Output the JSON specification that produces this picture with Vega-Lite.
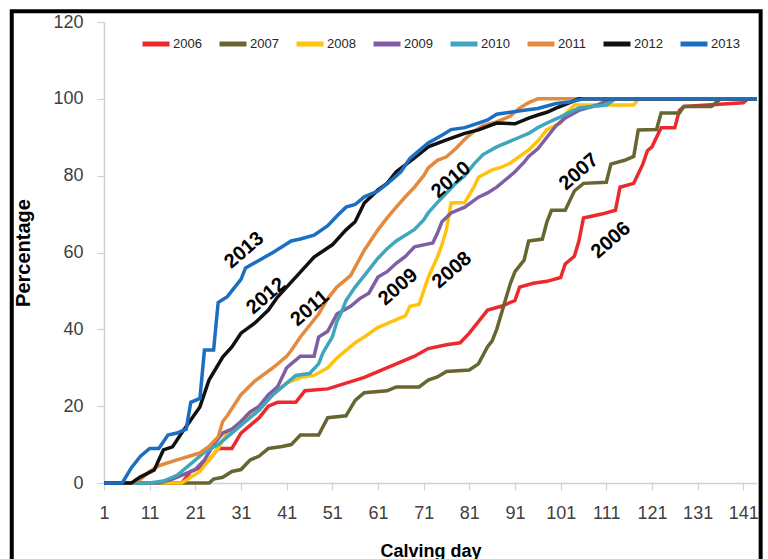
{
  "$schema": "https://vega.github.io/schema/vega-lite/v6.json",
  "width": 653,
  "height": 461,
  "autosize": {"type": "none"},
  "padding": {"left": 104, "top": 22, "right": 11, "bottom": 76},
  "background": "white",
  "config": {"view": {"stroke": null}},
  "datasets": {
    "curves": [
      {"year":"2006","day":1,"pct":0},{"year":"2006","day":18,"pct":0},{"year":"2006","day":20,"pct":3},{"year":"2006","day":22,"pct":4},{"year":"2006","day":24,"pct":6},{"year":"2006","day":26,"pct":9},{"year":"2006","day":29,"pct":9},{"year":"2006","day":31,"pct":13},{"year":"2006","day":33,"pct":15},{"year":"2006","day":35,"pct":17},{"year":"2006","day":37,"pct":20},{"year":"2006","day":39,"pct":21},{"year":"2006","day":43,"pct":21},{"year":"2006","day":45,"pct":24},{"year":"2006","day":50,"pct":24.5},{"year":"2006","day":54,"pct":26},{"year":"2006","day":58,"pct":27.5},{"year":"2006","day":61,"pct":29},{"year":"2006","day":65,"pct":31},{"year":"2006","day":69,"pct":33},{"year":"2006","day":72,"pct":35},{"year":"2006","day":76,"pct":36},{"year":"2006","day":79,"pct":36.5},{"year":"2006","day":81,"pct":39},{"year":"2006","day":83,"pct":42},{"year":"2006","day":85,"pct":45},{"year":"2006","day":88,"pct":46},{"year":"2006","day":91,"pct":47.5},{"year":"2006","day":92,"pct":51},{"year":"2006","day":95,"pct":52},{"year":"2006","day":98,"pct":52.5},{"year":"2006","day":101,"pct":53.5},{"year":"2006","day":102,"pct":57},{"year":"2006","day":104,"pct":59},{"year":"2006","day":105,"pct":63},{"year":"2006","day":106,"pct":69},{"year":"2006","day":110,"pct":70},{"year":"2006","day":113,"pct":71},{"year":"2006","day":114,"pct":77},{"year":"2006","day":117,"pct":78},{"year":"2006","day":119,"pct":83},{"year":"2006","day":120,"pct":86.5},{"year":"2006","day":121,"pct":87.5},{"year":"2006","day":123,"pct":92.5},{"year":"2006","day":126,"pct":92.5},{"year":"2006","day":127,"pct":97},{"year":"2006","day":128,"pct":98},{"year":"2006","day":141,"pct":99},{"year":"2006","day":142,"pct":100},{"year":"2006","day":144,"pct":100},
      {"year":"2007","day":1,"pct":0},{"year":"2007","day":24,"pct":0},{"year":"2007","day":25,"pct":1},{"year":"2007","day":27,"pct":1.5},{"year":"2007","day":29,"pct":3},{"year":"2007","day":31,"pct":3.5},{"year":"2007","day":33,"pct":6},{"year":"2007","day":35,"pct":7},{"year":"2007","day":37,"pct":9},{"year":"2007","day":40,"pct":9.5},{"year":"2007","day":42,"pct":10},{"year":"2007","day":44,"pct":12.5},{"year":"2007","day":48,"pct":12.5},{"year":"2007","day":50,"pct":17},{"year":"2007","day":54,"pct":17.5},{"year":"2007","day":56,"pct":21.5},{"year":"2007","day":58,"pct":23.5},{"year":"2007","day":63,"pct":24},{"year":"2007","day":65,"pct":25},{"year":"2007","day":70,"pct":25},{"year":"2007","day":72,"pct":26.8},{"year":"2007","day":74,"pct":27.6},{"year":"2007","day":76,"pct":29},{"year":"2007","day":81,"pct":29.4},{"year":"2007","day":83,"pct":31},{"year":"2007","day":85,"pct":35.5},{"year":"2007","day":86,"pct":37},{"year":"2007","day":87,"pct":40},{"year":"2007","day":88,"pct":44},{"year":"2007","day":89,"pct":48},{"year":"2007","day":90,"pct":52},{"year":"2007","day":91,"pct":55},{"year":"2007","day":93,"pct":58},{"year":"2007","day":94,"pct":63},{"year":"2007","day":97,"pct":63.5},{"year":"2007","day":98,"pct":68},{"year":"2007","day":99,"pct":71},{"year":"2007","day":102,"pct":71},{"year":"2007","day":104,"pct":76},{"year":"2007","day":106,"pct":78},{"year":"2007","day":111,"pct":78.3},{"year":"2007","day":112,"pct":83},{"year":"2007","day":115,"pct":84},{"year":"2007","day":117,"pct":85},{"year":"2007","day":118,"pct":91.9},{"year":"2007","day":122,"pct":92},{"year":"2007","day":123,"pct":96.3},{"year":"2007","day":127,"pct":96.3},{"year":"2007","day":128,"pct":98},{"year":"2007","day":134,"pct":98},{"year":"2007","day":136,"pct":100},{"year":"2007","day":144,"pct":100},
      {"year":"2008","day":1,"pct":0},{"year":"2008","day":18,"pct":0},{"year":"2008","day":20,"pct":1.5},{"year":"2008","day":22,"pct":3},{"year":"2008","day":24,"pct":6},{"year":"2008","day":26,"pct":9},{"year":"2008","day":28,"pct":13},{"year":"2008","day":30,"pct":15},{"year":"2008","day":33,"pct":18},{"year":"2008","day":36,"pct":21},{"year":"2008","day":38,"pct":23},{"year":"2008","day":41,"pct":26},{"year":"2008","day":44,"pct":27.5},{"year":"2008","day":47,"pct":28},{"year":"2008","day":50,"pct":30},{"year":"2008","day":52,"pct":32.5},{"year":"2008","day":54,"pct":34.5},{"year":"2008","day":56,"pct":36.5},{"year":"2008","day":58,"pct":38},{"year":"2008","day":61,"pct":40.5},{"year":"2008","day":63,"pct":41.5},{"year":"2008","day":65,"pct":42.5},{"year":"2008","day":67,"pct":43.5},{"year":"2008","day":68,"pct":46},{"year":"2008","day":70,"pct":46.5},{"year":"2008","day":71,"pct":50},{"year":"2008","day":72,"pct":53.5},{"year":"2008","day":74,"pct":58.8},{"year":"2008","day":75,"pct":62},{"year":"2008","day":76,"pct":66},{"year":"2008","day":77,"pct":72.9},{"year":"2008","day":80,"pct":73},{"year":"2008","day":82,"pct":77},{"year":"2008","day":83,"pct":79.6},{"year":"2008","day":86,"pct":81.5},{"year":"2008","day":88,"pct":82.2},{"year":"2008","day":90,"pct":83.3},{"year":"2008","day":92,"pct":85},{"year":"2008","day":94,"pct":86.7},{"year":"2008","day":96,"pct":89},{"year":"2008","day":98,"pct":92},{"year":"2008","day":101,"pct":93.7},{"year":"2008","day":102,"pct":96},{"year":"2008","day":104,"pct":98.4},{"year":"2008","day":117,"pct":98.4},{"year":"2008","day":118,"pct":100},{"year":"2008","day":144,"pct":100},
      {"year":"2009","day":1,"pct":0},{"year":"2009","day":13,"pct":0},{"year":"2009","day":16,"pct":1},{"year":"2009","day":19,"pct":2.5},{"year":"2009","day":21,"pct":3.5},{"year":"2009","day":23,"pct":6},{"year":"2009","day":25,"pct":10},{"year":"2009","day":27,"pct":13},{"year":"2009","day":29,"pct":14},{"year":"2009","day":31,"pct":16},{"year":"2009","day":33,"pct":18.5},{"year":"2009","day":35,"pct":20},{"year":"2009","day":37,"pct":23},{"year":"2009","day":39,"pct":25},{"year":"2009","day":41,"pct":30},{"year":"2009","day":42,"pct":31},{"year":"2009","day":44,"pct":33},{"year":"2009","day":47,"pct":33},{"year":"2009","day":48,"pct":38},{"year":"2009","day":50,"pct":39.5},{"year":"2009","day":52,"pct":44},{"year":"2009","day":55,"pct":46},{"year":"2009","day":57,"pct":48},{"year":"2009","day":59,"pct":49.4},{"year":"2009","day":61,"pct":53.6},{"year":"2009","day":63,"pct":55},{"year":"2009","day":65,"pct":57.2},{"year":"2009","day":67,"pct":59},{"year":"2009","day":69,"pct":61.5},{"year":"2009","day":73,"pct":62.5},{"year":"2009","day":74,"pct":65},{"year":"2009","day":75,"pct":68},{"year":"2009","day":77,"pct":70.3},{"year":"2009","day":80,"pct":71.8},{"year":"2009","day":83,"pct":74.4},{"year":"2009","day":85,"pct":75.5},{"year":"2009","day":87,"pct":77},{"year":"2009","day":89,"pct":79},{"year":"2009","day":91,"pct":81},{"year":"2009","day":93,"pct":83.5},{"year":"2009","day":94,"pct":85},{"year":"2009","day":96,"pct":87},{"year":"2009","day":98,"pct":90},{"year":"2009","day":100,"pct":93},{"year":"2009","day":102,"pct":95},{"year":"2009","day":105,"pct":97},{"year":"2009","day":109,"pct":98.4},{"year":"2009","day":112,"pct":100},{"year":"2009","day":144,"pct":100},
      {"year":"2010","day":1,"pct":0},{"year":"2010","day":11,"pct":0},{"year":"2010","day":14,"pct":0.5},{"year":"2010","day":17,"pct":2},{"year":"2010","day":20,"pct":5},{"year":"2010","day":23,"pct":8},{"year":"2010","day":26,"pct":10},{"year":"2010","day":29,"pct":13},{"year":"2010","day":32,"pct":16},{"year":"2010","day":35,"pct":19},{"year":"2010","day":38,"pct":23},{"year":"2010","day":41,"pct":26},{"year":"2010","day":43,"pct":28},{"year":"2010","day":46,"pct":28.5},{"year":"2010","day":48,"pct":31},{"year":"2010","day":49,"pct":34},{"year":"2010","day":51,"pct":38},{"year":"2010","day":52,"pct":42},{"year":"2010","day":53,"pct":44.5},{"year":"2010","day":54,"pct":47.5},{"year":"2010","day":56,"pct":51},{"year":"2010","day":58,"pct":54},{"year":"2010","day":61,"pct":58.5},{"year":"2010","day":63,"pct":61},{"year":"2010","day":65,"pct":63},{"year":"2010","day":67,"pct":64.5},{"year":"2010","day":69,"pct":66},{"year":"2010","day":71,"pct":68.5},{"year":"2010","day":72,"pct":70.3},{"year":"2010","day":74,"pct":73},{"year":"2010","day":76,"pct":75.5},{"year":"2010","day":78,"pct":78},{"year":"2010","day":80,"pct":80},{"year":"2010","day":82,"pct":83},{"year":"2010","day":84,"pct":85.5},{"year":"2010","day":87,"pct":87.5},{"year":"2010","day":90,"pct":89},{"year":"2010","day":92,"pct":90},{"year":"2010","day":94,"pct":91},{"year":"2010","day":96,"pct":92.5},{"year":"2010","day":98,"pct":93.7},{"year":"2010","day":100,"pct":94.8},{"year":"2010","day":101,"pct":95.3},{"year":"2010","day":103,"pct":96.5},{"year":"2010","day":105,"pct":97.6},{"year":"2010","day":111,"pct":98.4},{"year":"2010","day":113,"pct":100},{"year":"2010","day":144,"pct":100},
      {"year":"2011","day":1,"pct":0},{"year":"2011","day":7,"pct":0},{"year":"2011","day":9,"pct":1},{"year":"2011","day":11,"pct":3},{"year":"2011","day":13,"pct":4.5},{"year":"2011","day":17,"pct":6},{"year":"2011","day":22,"pct":7.8},{"year":"2011","day":24,"pct":9.5},{"year":"2011","day":26,"pct":12},{"year":"2011","day":27,"pct":16},{"year":"2011","day":28,"pct":17.5},{"year":"2011","day":31,"pct":23},{"year":"2011","day":34,"pct":26.5},{"year":"2011","day":38,"pct":30},{"year":"2011","day":41,"pct":33},{"year":"2011","day":42,"pct":34.5},{"year":"2011","day":44,"pct":38},{"year":"2011","day":46,"pct":41},{"year":"2011","day":48,"pct":44},{"year":"2011","day":50,"pct":48},{"year":"2011","day":52,"pct":51},{"year":"2011","day":55,"pct":54},{"year":"2011","day":58,"pct":60.6},{"year":"2011","day":61,"pct":65.9},{"year":"2011","day":63,"pct":69},{"year":"2011","day":65,"pct":71.8},{"year":"2011","day":67,"pct":74.5},{"year":"2011","day":69,"pct":77},{"year":"2011","day":71,"pct":80},{"year":"2011","day":72,"pct":82},{"year":"2011","day":74,"pct":84},{"year":"2011","day":76,"pct":84.9},{"year":"2011","day":78,"pct":87},{"year":"2011","day":80,"pct":89.5},{"year":"2011","day":82,"pct":91.5},{"year":"2011","day":84,"pct":93},{"year":"2011","day":87,"pct":94},{"year":"2011","day":90,"pct":95.5},{"year":"2011","day":92,"pct":97.6},{"year":"2011","day":94,"pct":99},{"year":"2011","day":96,"pct":100},{"year":"2011","day":144,"pct":100},
      {"year":"2012","day":1,"pct":0},{"year":"2012","day":7,"pct":0},{"year":"2012","day":9,"pct":1.6},{"year":"2012","day":12,"pct":3.4},{"year":"2012","day":14,"pct":8.6},{"year":"2012","day":16,"pct":9.4},{"year":"2012","day":18,"pct":13},{"year":"2012","day":22,"pct":19.8},{"year":"2012","day":24,"pct":26.8},{"year":"2012","day":27,"pct":32.8},{"year":"2012","day":29,"pct":35.4},{"year":"2012","day":31,"pct":39},{"year":"2012","day":34,"pct":41.6},{"year":"2012","day":37,"pct":45},{"year":"2012","day":39,"pct":48.4},{"year":"2012","day":43,"pct":53.6},{"year":"2012","day":47,"pct":58.8},{"year":"2012","day":51,"pct":62},{"year":"2012","day":54,"pct":65.9},{"year":"2012","day":56,"pct":68},{"year":"2012","day":58,"pct":72.9},{"year":"2012","day":61,"pct":76.3},{"year":"2012","day":63,"pct":78},{"year":"2012","day":65,"pct":81},{"year":"2012","day":69,"pct":84.6},{"year":"2012","day":72,"pct":87.5},{"year":"2012","day":76,"pct":89.3},{"year":"2012","day":80,"pct":91},{"year":"2012","day":83,"pct":91.9},{"year":"2012","day":87,"pct":93.7},{"year":"2012","day":91,"pct":93.5},{"year":"2012","day":94,"pct":95},{"year":"2012","day":96,"pct":95.8},{"year":"2012","day":98,"pct":96.5},{"year":"2012","day":100,"pct":97.6},{"year":"2012","day":103,"pct":99},{"year":"2012","day":105,"pct":100},{"year":"2012","day":144,"pct":100},
      {"year":"2013","day":1,"pct":0},{"year":"2013","day":5,"pct":0},{"year":"2013","day":7,"pct":4},{"year":"2013","day":9,"pct":7},{"year":"2013","day":11,"pct":9},{"year":"2013","day":13,"pct":9},{"year":"2013","day":15,"pct":12.5},{"year":"2013","day":17,"pct":13},{"year":"2013","day":19,"pct":14},{"year":"2013","day":20,"pct":21},{"year":"2013","day":22,"pct":22},{"year":"2013","day":23,"pct":34.6},{"year":"2013","day":25,"pct":34.6},{"year":"2013","day":26,"pct":47},{"year":"2013","day":28,"pct":48.5},{"year":"2013","day":29,"pct":50},{"year":"2013","day":31,"pct":53},{"year":"2013","day":32,"pct":56},{"year":"2013","day":35,"pct":58},{"year":"2013","day":38,"pct":60},{"year":"2013","day":42,"pct":63},{"year":"2013","day":44,"pct":63.5},{"year":"2013","day":47,"pct":64.5},{"year":"2013","day":50,"pct":67},{"year":"2013","day":52,"pct":69.5},{"year":"2013","day":54,"pct":71.8},{"year":"2013","day":56,"pct":72.5},{"year":"2013","day":58,"pct":74.5},{"year":"2013","day":61,"pct":76},{"year":"2013","day":64,"pct":78.9},{"year":"2013","day":66,"pct":81},{"year":"2013","day":68,"pct":84.5},{"year":"2013","day":70,"pct":86.5},{"year":"2013","day":72,"pct":88.5},{"year":"2013","day":75,"pct":90.5},{"year":"2013","day":77,"pct":92},{"year":"2013","day":80,"pct":92.5},{"year":"2013","day":83,"pct":93.7},{"year":"2013","day":85,"pct":94.5},{"year":"2013","day":87,"pct":96},{"year":"2013","day":90,"pct":96.5},{"year":"2013","day":93,"pct":97},{"year":"2013","day":96,"pct":97.5},{"year":"2013","day":100,"pct":98.8},{"year":"2013","day":103,"pct":99.2},{"year":"2013","day":106,"pct":100},{"year":"2013","day":144,"pct":100}
    ],
    "labels": [
      {"label":"2013","day":31.7,"pct":60.6},
      {"label":"2012","day":36.5,"pct":48.7},
      {"label":"2011","day":46.1,"pct":45.5},
      {"label":"2009","day":65.4,"pct":51},
      {"label":"2008","day":77.2,"pct":55.4},
      {"label":"2010","day":77,"pct":78.9},
      {"label":"2007","day":105,"pct":81},
      {"label":"2006","day":112,"pct":63.2}
    ]
  },
  "layer": [
    {
      "data": {"name": "curves"},
      "mark": {"type": "line", "strokeWidth": 3.5, "strokeJoin": "miter"},
      "encoding": {
        "x": {
          "field": "day", "type": "quantitative",
          "scale": {"domain": [1, 144], "nice": false, "zero": false},
          "axis": {
            "values": [1,6,11,16,21,26,31,36,41,46,51,56,61,66,71,76,81,86,91,96,101,106,111,116,121,126,131,136,141],
            "labelExpr": "(datum.value - 1) % 10 == 0 ? datum.label : ''",
            "grid": false, "domainColor": "#d0d0d0", "domainWidth": 1.5,
            "tickColor": "#d0d0d0", "tickSize": 7, "tickWidth": 1.2,
            "labelFont": "Liberation Sans", "labelFontSize": 18, "labelColor": "#404040",
            "labelPadding": 14, "labelFlush": false, "labelOverlap": false,
            "title": "Calving day", "titleFont": "Liberation Sans", "titleFontSize": 18,
            "titleFontWeight": "bold", "titleColor": "#000000", "titlePadding": 20
          }
        },
        "y": {
          "field": "pct", "type": "quantitative",
          "scale": {"domain": [0, 120], "nice": false},
          "axis": {
            "values": [0,20,40,60,80,100,120],
            "grid": false, "domainColor": "#d0d0d0", "domainWidth": 1.5,
            "tickColor": "#d0d0d0", "tickSize": 7, "tickWidth": 1.2,
            "labelFont": "Liberation Sans", "labelFontSize": 18, "labelColor": "#404040",
            "labelPadding": 14,
            "title": "Percentage", "titleFont": "Liberation Sans", "titleFontSize": 20,
            "titleFontWeight": "bold", "titleColor": "#000000", "titlePadding": 19
          }
        },
        "color": {
          "field": "year", "type": "nominal",
          "scale": {
            "domain": ["2006","2007","2008","2009","2010","2011","2012","2013"],
            "range": ["#EC2A2E","#676530","#FFC20E","#7E5FA6","#3EA7BE","#E48A3C","#111111","#1B6EC2"]
          },
          "legend": {
            "title": null, "orient": "none", "direction": "horizontal", "columns": 8,
            "legendX": 36, "legendY": 6,
            "symbolType": "stroke", "symbolSize": 729, "symbolStrokeWidth": 5,
            "labelFont": "Liberation Sans", "labelFontSize": 13, "labelColor": "#262626",
            "labelOffset": 1, "columnPadding": 7
          }
        }
      }
    },
    {
      "data": {"name": "labels"},
      "mark": {"type": "text", "angle": -41, "align": "center", "baseline": "middle",
               "font": "Liberation Sans", "fontSize": 20, "fontWeight": "bold", "color": "#000000"},
      "encoding": {
        "x": {"field": "day", "type": "quantitative"},
        "y": {"field": "pct", "type": "quantitative"},
        "text": {"field": "label"}
      }
    },
    {
      "data": {"values": [{}]},
      "mark": {"type": "rect", "fill": null, "stroke": "#000000", "strokeWidth": 4, "clip": false},
      "encoding": {
        "x": {"datum": -19.2, "type": "quantitative"},
        "x2": {"datum": 144.8},
        "y": {"datum": 122.8, "type": "quantitative"},
        "y2": {"datum": -25}
      }
    }
  ]
}
